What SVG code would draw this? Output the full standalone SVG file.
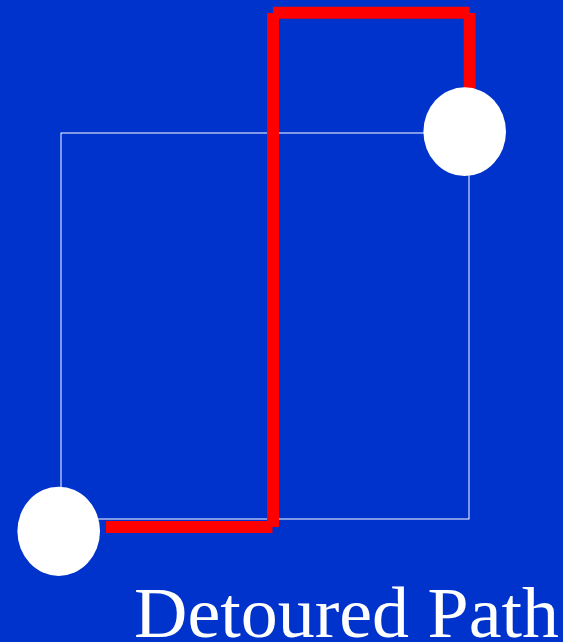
<svg xmlns="http://www.w3.org/2000/svg" width="563" height="642" viewBox="0 0 563 642">
<style>
.seg{stroke:#ff0000;stroke-width:12;stroke-linecap:butt;fill:none}
.node{fill:#ffffff}
.label{font-family:"Liberation Serif","Times New Roman",serif;fill:#ffffff}
</style>
<rect x="0" y="0" width="563" height="642" fill="#0033cc"/>
<g id="frame"><rect x="61" y="133" width="408" height="386" fill="none" stroke="#ffffff" stroke-width="1"/></g>
<g id="connectors">
<line class="seg" x1="106" y1="527" x2="272.5" y2="527"/>
<line class="seg" x1="273" y1="527" x2="273" y2="13"/>
<line class="seg" x1="273" y1="12.7" x2="469.7" y2="12.7"/>
<line class="seg" x1="469.7" y1="13" x2="469.7" y2="100"/>
</g>
<g id="start"><ellipse class="node" cx="58.7" cy="531.3" rx="41.3" ry="44.6"/></g>
<g id="end"><ellipse class="node" cx="464.7" cy="131.7" rx="41.3" ry="44.4"/></g>
<g id="title"><text class="label" x="134" y="636.5" font-size="72" textLength="425" lengthAdjust="spacingAndGlyphs">Detoured Path</text></g>
</svg>
